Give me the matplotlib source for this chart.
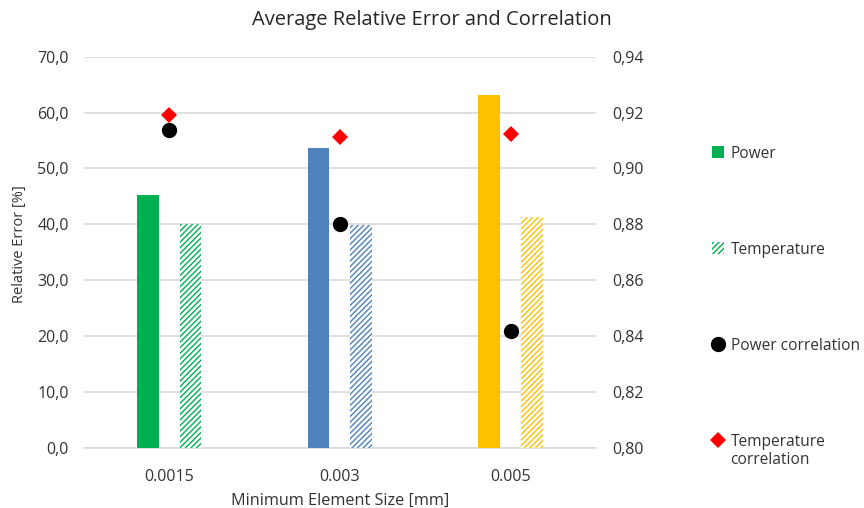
import matplotlib
matplotlib.use("Agg")
import matplotlib.pyplot as plt
import numpy as np
from matplotlib.ticker import FuncFormatter, MultipleLocator
from matplotlib.patches import Patch
from matplotlib.lines import Line2D

plt.rcParams['font.family'] = ['Open Sans', 'DejaVu Sans']
plt.rcParams['hatch.linewidth'] = 1.0

categories = ["0.0015", "0.003", "0.005"]
power_error = [45.3, 53.7, 63.1]
temperature_error = [40.1, 39.9, 41.3]
power_corr = [0.9138, 0.880, 0.8419]
temperature_corr = [0.919, 0.9114, 0.9124]
bar_colors = ["#00B050", "#4F81BD", "#FFC000"]

text_color = "#333333"
grid_color = "#D9D9D9"

fig = plt.figure(figsize=(8.64, 5.08), dpi=100)
ax = fig.add_axes([0.0972, 0.1187, 0.5926, 0.7697])
ax2 = ax.twinx()

x = np.arange(len(categories))
w = 0.127
off = 0.125

for i in range(len(categories)):
    ax.bar(x[i] - off, power_error[i], width=w, color=bar_colors[i], linewidth=0, zorder=3)
    ax.bar(x[i] + off, temperature_error[i], width=w, facecolor="white",
           edgecolor=bar_colors[i], hatch="//////", linewidth=0, zorder=3)

ax.set_xlim(-0.5, len(categories) - 0.5)
ax.set_ylim(0, 70)
ax.yaxis.set_major_locator(MultipleLocator(10))
ax.yaxis.set_major_formatter(FuncFormatter(lambda v, p: f"{v:.1f}".replace(".", ",")))
ax.set_xticks(x)
ax.set_xticklabels(categories)
ax.grid(axis="y", color=grid_color, linewidth=1.2, zorder=0)
ax.set_axisbelow(True)
for s in ["top", "right", "left"]:
    ax.spines[s].set_visible(False)
ax.spines["bottom"].set_color(grid_color)
ax.spines["bottom"].set_linewidth(1.2)
ax.tick_params(axis="x", length=0, labelsize=11.5, colors=text_color, pad=15)
ax.tick_params(axis="y", length=0, labelsize=11.5, colors=text_color, pad=11)

ax2.set_ylim(0.80, 0.94)
ax2.yaxis.set_major_locator(MultipleLocator(0.02))
ax2.yaxis.set_major_formatter(FuncFormatter(lambda v, p: f"{v:.2f}".replace(".", ",")))
for s in ["top", "right", "left", "bottom"]:
    ax2.spines[s].set_visible(False)
ax2.tick_params(axis="y", length=0, labelsize=11.5, colors=text_color, pad=12)

ax2.plot(x, power_corr, linestyle="none", marker="o", markersize=10, color="black", zorder=5)
ax2.plot(x, temperature_corr, linestyle="none", marker="D", markersize=8, color="#FF0000",
         markeredgewidth=0, zorder=5)

ax.set_ylabel("Relative Error [%]", fontsize=10.5, color=text_color)
ax.yaxis.set_label_coords(-0.111, 0.52)
ax.set_xlabel("Minimum Element Size [mm]", fontsize=11.7, color=text_color, labelpad=6)
fig.suptitle("Average Relative Error and Correlation", fontsize=14.5, color="#262626", y=0.98)

handles = [
    Patch(facecolor=bar_colors[0], linewidth=0),
    Patch(facecolor="white", edgecolor=bar_colors[0], hatch="//////", linewidth=0),
    Line2D([], [], linestyle="none", marker="o", markersize=10, color="black"),
    Line2D([], [], linestyle="none", marker="D", markersize=8, color="#FF0000", markeredgewidth=0),
]
labels = ["Power", "Temperature", "Power correlation", "Temperature\ncorrelation"]
leg = fig.legend(handles, labels, loc="upper left", bbox_to_anchor=(0.815, 0.7285),
                 frameon=False, fontsize=11.2, labelspacing=5.15, handlelength=0.8,
                 handleheight=0.8, handletextpad=0.4, borderpad=0)
for t in leg.get_texts():
    t.set_color(text_color)
# align the last marker with the first line of its two-line label
h = leg.legend_handles[3]
h.set_ydata(np.asarray(h.get_ydata()) + 8.1)

fig.savefig("out.png", dpi=100)
